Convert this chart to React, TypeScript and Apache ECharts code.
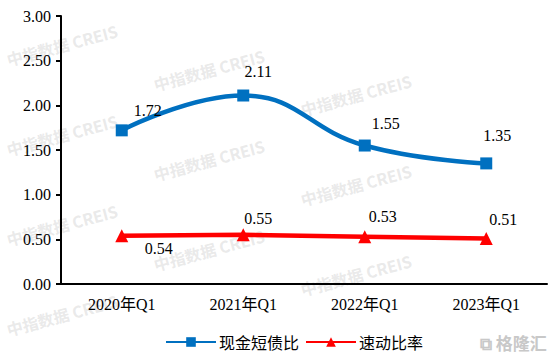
import React, { useEffect, useRef } from "react";
import * as echarts from "echarts";

const categories = ["2020年Q1", "2021年Q1", "2022年Q1", "2023年Q1"];
const cashDebtRatio = [1.72, 2.11, 1.55, 1.35];
const quickRatio = [0.54, 0.55, 0.53, 0.51];
const yTicks = { min: 0, max: 3, interval: 0.5 };
const seriesNames = ["现金短债比", "速动比率"];

const blueLabelOffsets = [[26, -20], [15, -24], [21, -22], [11, -28]];
const redLabelOffsets = [[37, 13], [15, -16], [18, -20], [17, -19]];

const SERIF = "'Times New Roman', 'Liberation Serif', 'Noto Sans CJK SC', serif";

export default function App() {
  const ref = useRef<HTMLDivElement>(null);
  useEffect(() => {
    document.body.style.margin = "0";
    if (!ref.current) return;
    const chart = echarts.init(ref.current, null, { renderer: "svg" });

    const watermarks: any[] = [];
    for (let i = 0; i < 4; i++) {
      for (let j = 0; j < 4; j++) {
        const cx = 62 + 147 * i;
        const cy = 45 + 25 * i + 90 * j;
        if (cy < 20 || cy > 325 || cx > 500) continue;
        watermarks.push({
          type: "text",
          x: cx,
          y: cy,
          rotation: (15 * Math.PI) / 180,
          z: -10,
          silent: true,
          style: {
            text: "中指数据 CREIS",
            fill: "rgba(200,200,200,0.4)",
            font: "bold 16px 'Noto Sans CJK SC', sans-serif",
            textAlign: "center",
            textVerticalAlign: "middle",
          },
        });
      }
    }

    const mkData = (vals: number[], offs: number[][]) =>
      vals.map((v, i) => ({
        value: v,
        label: { offset: offs[i] },
      }));

    chart.setOption({
      animation: false,
      backgroundColor: "#ffffff",
      grid: { left: 61, right: 13, top: 16, bottom: 79, containLabel: false },
      graphic: [
        ...watermarks,
        {
          type: "text",
          x: 480,
          y: 334,
          z: 10,
          style: {
            text: "⧉ 格隆汇",
            fill: "#c8c8c8",
            font: "bold 17px 'Noto Sans CJK SC', sans-serif",
          },
        },
      ],
      legend: {
        bottom: 8,
        left: 160,
        itemWidth: 50,
        itemHeight: 12,
        itemGap: 6,
        textStyle: { fontSize: 16, color: "#000", fontFamily: "'Noto Sans CJK SC', sans-serif", padding: [0, 0, 0, -2] },
        data: seriesNames,
      },
      xAxis: {
        type: "category",
        data: categories,
        boundaryGap: true,
        axisLine: { show: true, lineStyle: { color: "#000", width: 2 } },
        axisTick: { show: false },
        axisLabel: { color: "#000", fontSize: 16, fontFamily: SERIF, margin: 12 },
        splitLine: { show: false },
      },
      yAxis: {
        type: "value",
        min: yTicks.min,
        max: yTicks.max,
        interval: yTicks.interval,
        axisLine: { show: true, lineStyle: { color: "#000", width: 2 } },
        axisTick: { show: true, length: 5, lineStyle: { color: "#000", width: 2 } },
        axisLabel: {
          color: "#000",
          fontSize: 16,
          fontFamily: SERIF,
          margin: 10,
          formatter: (v: number) => v.toFixed(2),
        },
        splitLine: { show: false },
      },
      series: [
        {
          name: seriesNames[0],
          type: "line",
          smooth: 0.45,
          data: mkData(cashDebtRatio, blueLabelOffsets),
          symbol: "rect",
          symbolSize: 12,
          lineStyle: { color: "#0070C0", width: 4.5 },
          itemStyle: { color: "#0070C0" },
          label: {
            show: true,
            position: "inside",
            color: "#000",
            fontSize: 16,
            fontFamily: SERIF,
            formatter: (p: any) => Number(p.value).toFixed(2),
          },
        },
        {
          name: seriesNames[1],
          type: "line",
          smooth: false,
          data: mkData(quickRatio, redLabelOffsets),
          symbol: "triangle",
          symbolSize: 13,
          lineStyle: { color: "#FF0000", width: 4.5 },
          itemStyle: { color: "#FF0000" },
          label: {
            show: true,
            position: "inside",
            color: "#000",
            fontSize: 16,
            fontFamily: SERIF,
            formatter: (p: any) => Number(p.value).toFixed(2),
          },
        },
      ],
    });
    return () => chart.dispose();
  }, []);
  return <div ref={ref} style={{ width: 560, height: 363 }} />;
}
